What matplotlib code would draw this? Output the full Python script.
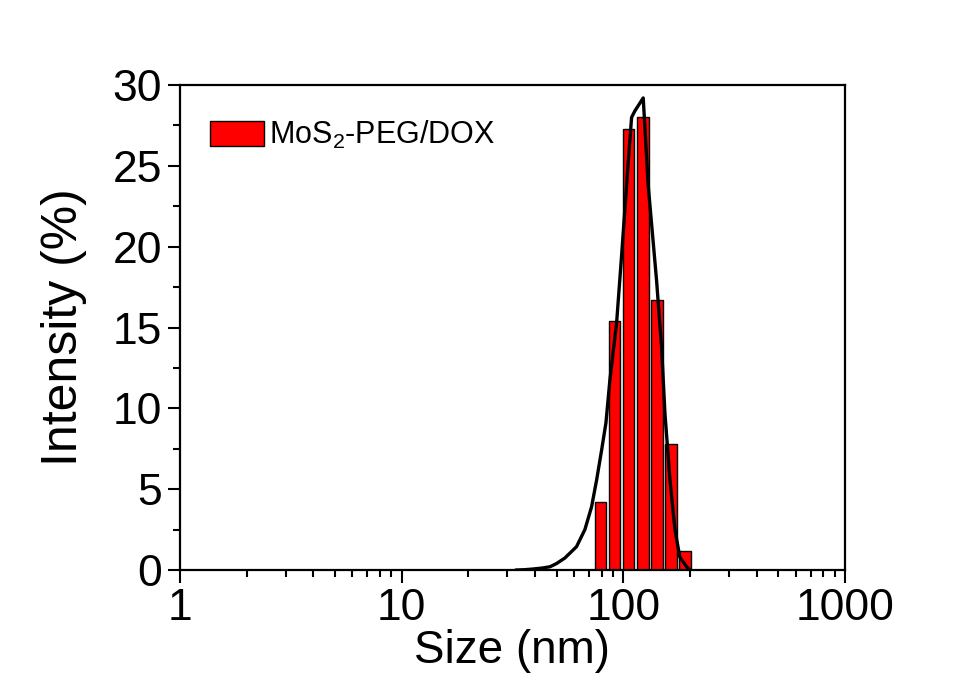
import numpy as np
import matplotlib
matplotlib.use('Agg')
import matplotlib.pyplot as plt
from matplotlib.ticker import FixedLocator, NullFormatter, LogLocator

plt.rcParams['font.family'] = ['Liberation Sans', 'DejaVu Sans']
plt.rcParams['mathtext.fontset'] = 'custom'
plt.rcParams['mathtext.rm'] = 'Liberation Sans'

# DLS histogram (bin centres in nm, intensity %)
bin_sizes = [78.8, 91.3, 105.7, 122.4, 141.8, 164.2, 190.1]
bin_intensity = [4.2, 15.4, 27.3, 28.0, 16.7, 7.8, 1.2]

# fitted distribution curve
curve_sizes = [33.0, 36.0, 39.1, 43.0, 46.7, 50.0, 54.5, 61.5, 67.1, 71.9, 75.8,
               79.8, 83.5, 87.0, 93.3, 98.3, 105.1, 109.0, 112.8, 123.0, 129.5,
               141.3, 148.8, 154.1, 162.3, 171.0, 179.9, 193.0, 199.6]
curve_intensity = [0.0, 0.02, 0.06, 0.12, 0.2, 0.4, 0.74, 1.44, 2.5, 3.9, 5.57,
                   7.4, 9.1, 11.75, 15.3, 19.5, 25.1, 28.0, 28.4, 29.2, 23.8,
                   17.9, 13.8, 9.7, 5.6, 2.5, 0.8, 0.2, 0.0]

x_ticks = [1, 10, 100, 1000]
y_ticks = [0, 5, 10, 15, 20, 25, 30]

fig = plt.figure(figsize=(9.67, 6.78), dpi=100)
ax = fig.add_axes([0.1861, 0.1593, 0.6877, 0.7153])

# bars are drawn symmetric in log space
half = 0.026
centres = np.array(bin_sizes)
lefts = centres * 10 ** (-half)
rights = centres * 10 ** half
ax.bar(lefts, np.array(bin_intensity), width=rights - lefts, align='edge',
       color='#ff0000', edgecolor='black', linewidth=1.0,
       label='MoS$_2$-PEG/DOX', zorder=2)
ax.plot(curve_sizes, curve_intensity, color='black', linewidth=2.4, zorder=3)

ax.set_xscale('log')
ax.set_xlim(1, 1000)
ax.set_ylim(0, 30)
ax.xaxis.set_major_locator(FixedLocator(x_ticks))
ax.set_xticklabels([str(t) for t in x_ticks])
ax.xaxis.set_minor_locator(LogLocator(base=10, subs=np.arange(2, 10)))
ax.xaxis.set_minor_formatter(NullFormatter())
ax.yaxis.set_major_locator(FixedLocator(y_ticks))
ax.yaxis.set_minor_locator(FixedLocator(np.arange(2.5, 30, 5)))

ax.tick_params(which='major', direction='out', length=9, width=1.5,
               labelsize=32, pad=4, top=False, right=False)
ax.tick_params(which='minor', direction='out', length=5, width=1.5,
               top=False, right=False)
for s in ax.spines.values():
    s.set_linewidth(1.6)

ax.set_xlabel('Size (nm)', fontsize=33)
ax.set_ylabel('Intensity (%)', fontsize=36)
ax.xaxis.set_label_coords(0.5, -0.122)
ax.yaxis.set_label_coords(-0.140, 0.5)

ax.legend(loc='center left', bbox_to_anchor=(0.045, 0.897), frameon=False,
          fontsize=22, handlelength=1.77, handleheight=0.85,
          handletextpad=0.15, borderpad=0, borderaxespad=0)

fig.savefig('out.png', dpi=100)
